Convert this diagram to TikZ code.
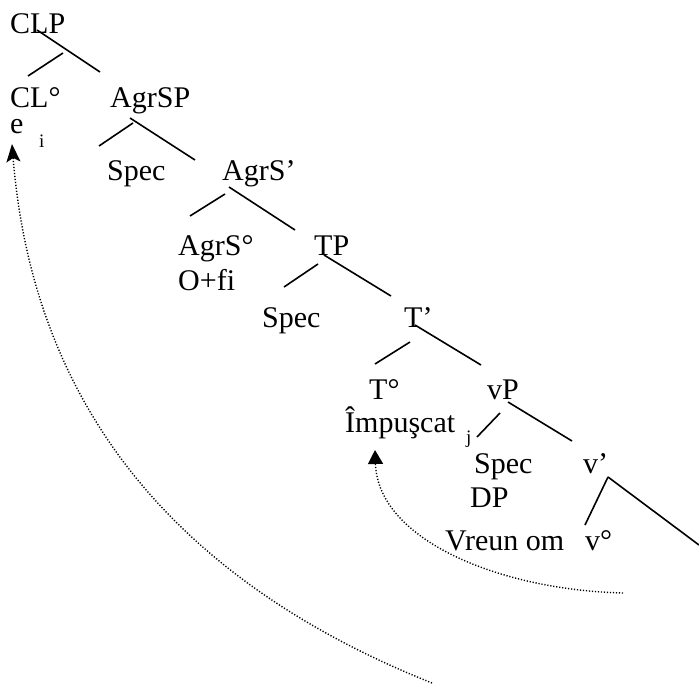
\documentclass[tikz,border=0pt]{standalone}
\usepackage{fontspec}
\setmainfont{Liberation Serif}
\usetikzlibrary{arrows.meta}
\begin{document}
\begin{tikzpicture}[x=1pt,y=-1pt,
  lbl/.style={anchor=base west, inner sep=0pt, font=\fontsize{30}{36}\selectfont},
  sub/.style={anchor=base west, inner sep=0pt, font=\fontsize{19}{22}\selectfont},
  branch/.style={line width=1.6pt},
  mv/.style={line width=1.4pt, dash pattern=on 1.2pt off 1.8pt}]
\useasboundingbox (0,0) rectangle (699,685);
% labels
\node[lbl] (CLP) at (10,34) {CLP};
\node[lbl] (CL) at (10,107) {CL°};
\node[lbl] (AgrSP) at (110,107) {AgrSP};
\node[lbl] (e) at (10,133) {e};
\node[sub] (ei) at (39,147) {i};
\node[lbl] (Spec1) at (107,180) {Spec};
\node[lbl] (AgrSb) at (222,180) {AgrS’};
\node[lbl] (AgrS0) at (178,255) {AgrS°};
\node[lbl] (Ofi) at (178,290) {O+fi};
\node[lbl] (TP) at (314,255) {TP};
\node[lbl] (Spec2) at (262,327) {Spec};
\node[lbl] (Tb) at (404,327) {T’};
\node[lbl] (T0) at (369,399) {T°};
\node[lbl] (vP) at (487,399) {vP};
\node[lbl] (Imp) at (345,432) {Împuşcat};
\node[sub] (Impj) at (466,443) {j};
\node[lbl] (Spec3) at (474,473) {Spec};
\node[lbl] (vb) at (583,473) {v’};
\node[lbl] (DP) at (470,507) {DP};
\node[lbl] (Vreun) at (445,550) {Vreun om};
\node[lbl] (v0) at (585,550) {v°};
% branch end points
\coordinate (a1) at (37,30);  \coordinate (a2) at (100,72);
\coordinate (a3) at (63,53);  \coordinate (a4) at (28,76);
\coordinate (b1) at (130,118); \coordinate (b2) at (195,160);
\coordinate (b3) at (133,123); \coordinate (b4) at (99,146);
\coordinate (c1) at (229,187); \coordinate (c2) at (295,230);
\coordinate (c3) at (225,194); \coordinate (c4) at (190,216);
\coordinate (d1) at (324,255); \coordinate (d2) at (391,296);
\coordinate (d3) at (318,264); \coordinate (d4) at (284,287);
\coordinate (f1) at (415,325); \coordinate (f2) at (481,365);
\coordinate (f3) at (410,342); \coordinate (f4) at (375,364);
\coordinate (g1) at (508,402); \coordinate (g2) at (572,441);
\coordinate (g3) at (500,413); \coordinate (g4) at (477,437);
\coordinate (h1) at (608,477); \coordinate (h2) at (699,545);
\coordinate (h4) at (585,525);
\draw[branch] (a1) -- (a2);  \draw[branch] (a3) -- (a4);
\draw[branch] (b1) -- (b2);  \draw[branch] (b3) -- (b4);
\draw[branch] (c1) -- (c2);  \draw[branch] (c3) -- (c4);
\draw[branch] (d1) -- (d2);  \draw[branch] (d3) -- (d4);
\draw[branch] (f1) -- (f2);  \draw[branch] (f3) -- (f4);
\draw[branch] (g1) -- (g2);  \draw[branch] (g3) -- (g4);
\draw[branch] (h1) -- (h2);  \draw[branch] (h1) -- (h4);
% movement arrows
\coordinate (m1) at (623,593);
\coordinate (m1t) at (375,450);
\draw[mv, -{Triangle[length=14pt,width=15pt]}] (m1)
  .. controls (500,590) and (378,540) .. (m1t);
\coordinate (m2) at (432,683);
\coordinate (m2t) at (12,144);
\draw[mv, -{Stealth[length=18pt,width=14pt,inset=4pt]}] (m2)
  .. controls (219,598) and (36,444) .. (m2t);
\end{tikzpicture}
\end{document}
